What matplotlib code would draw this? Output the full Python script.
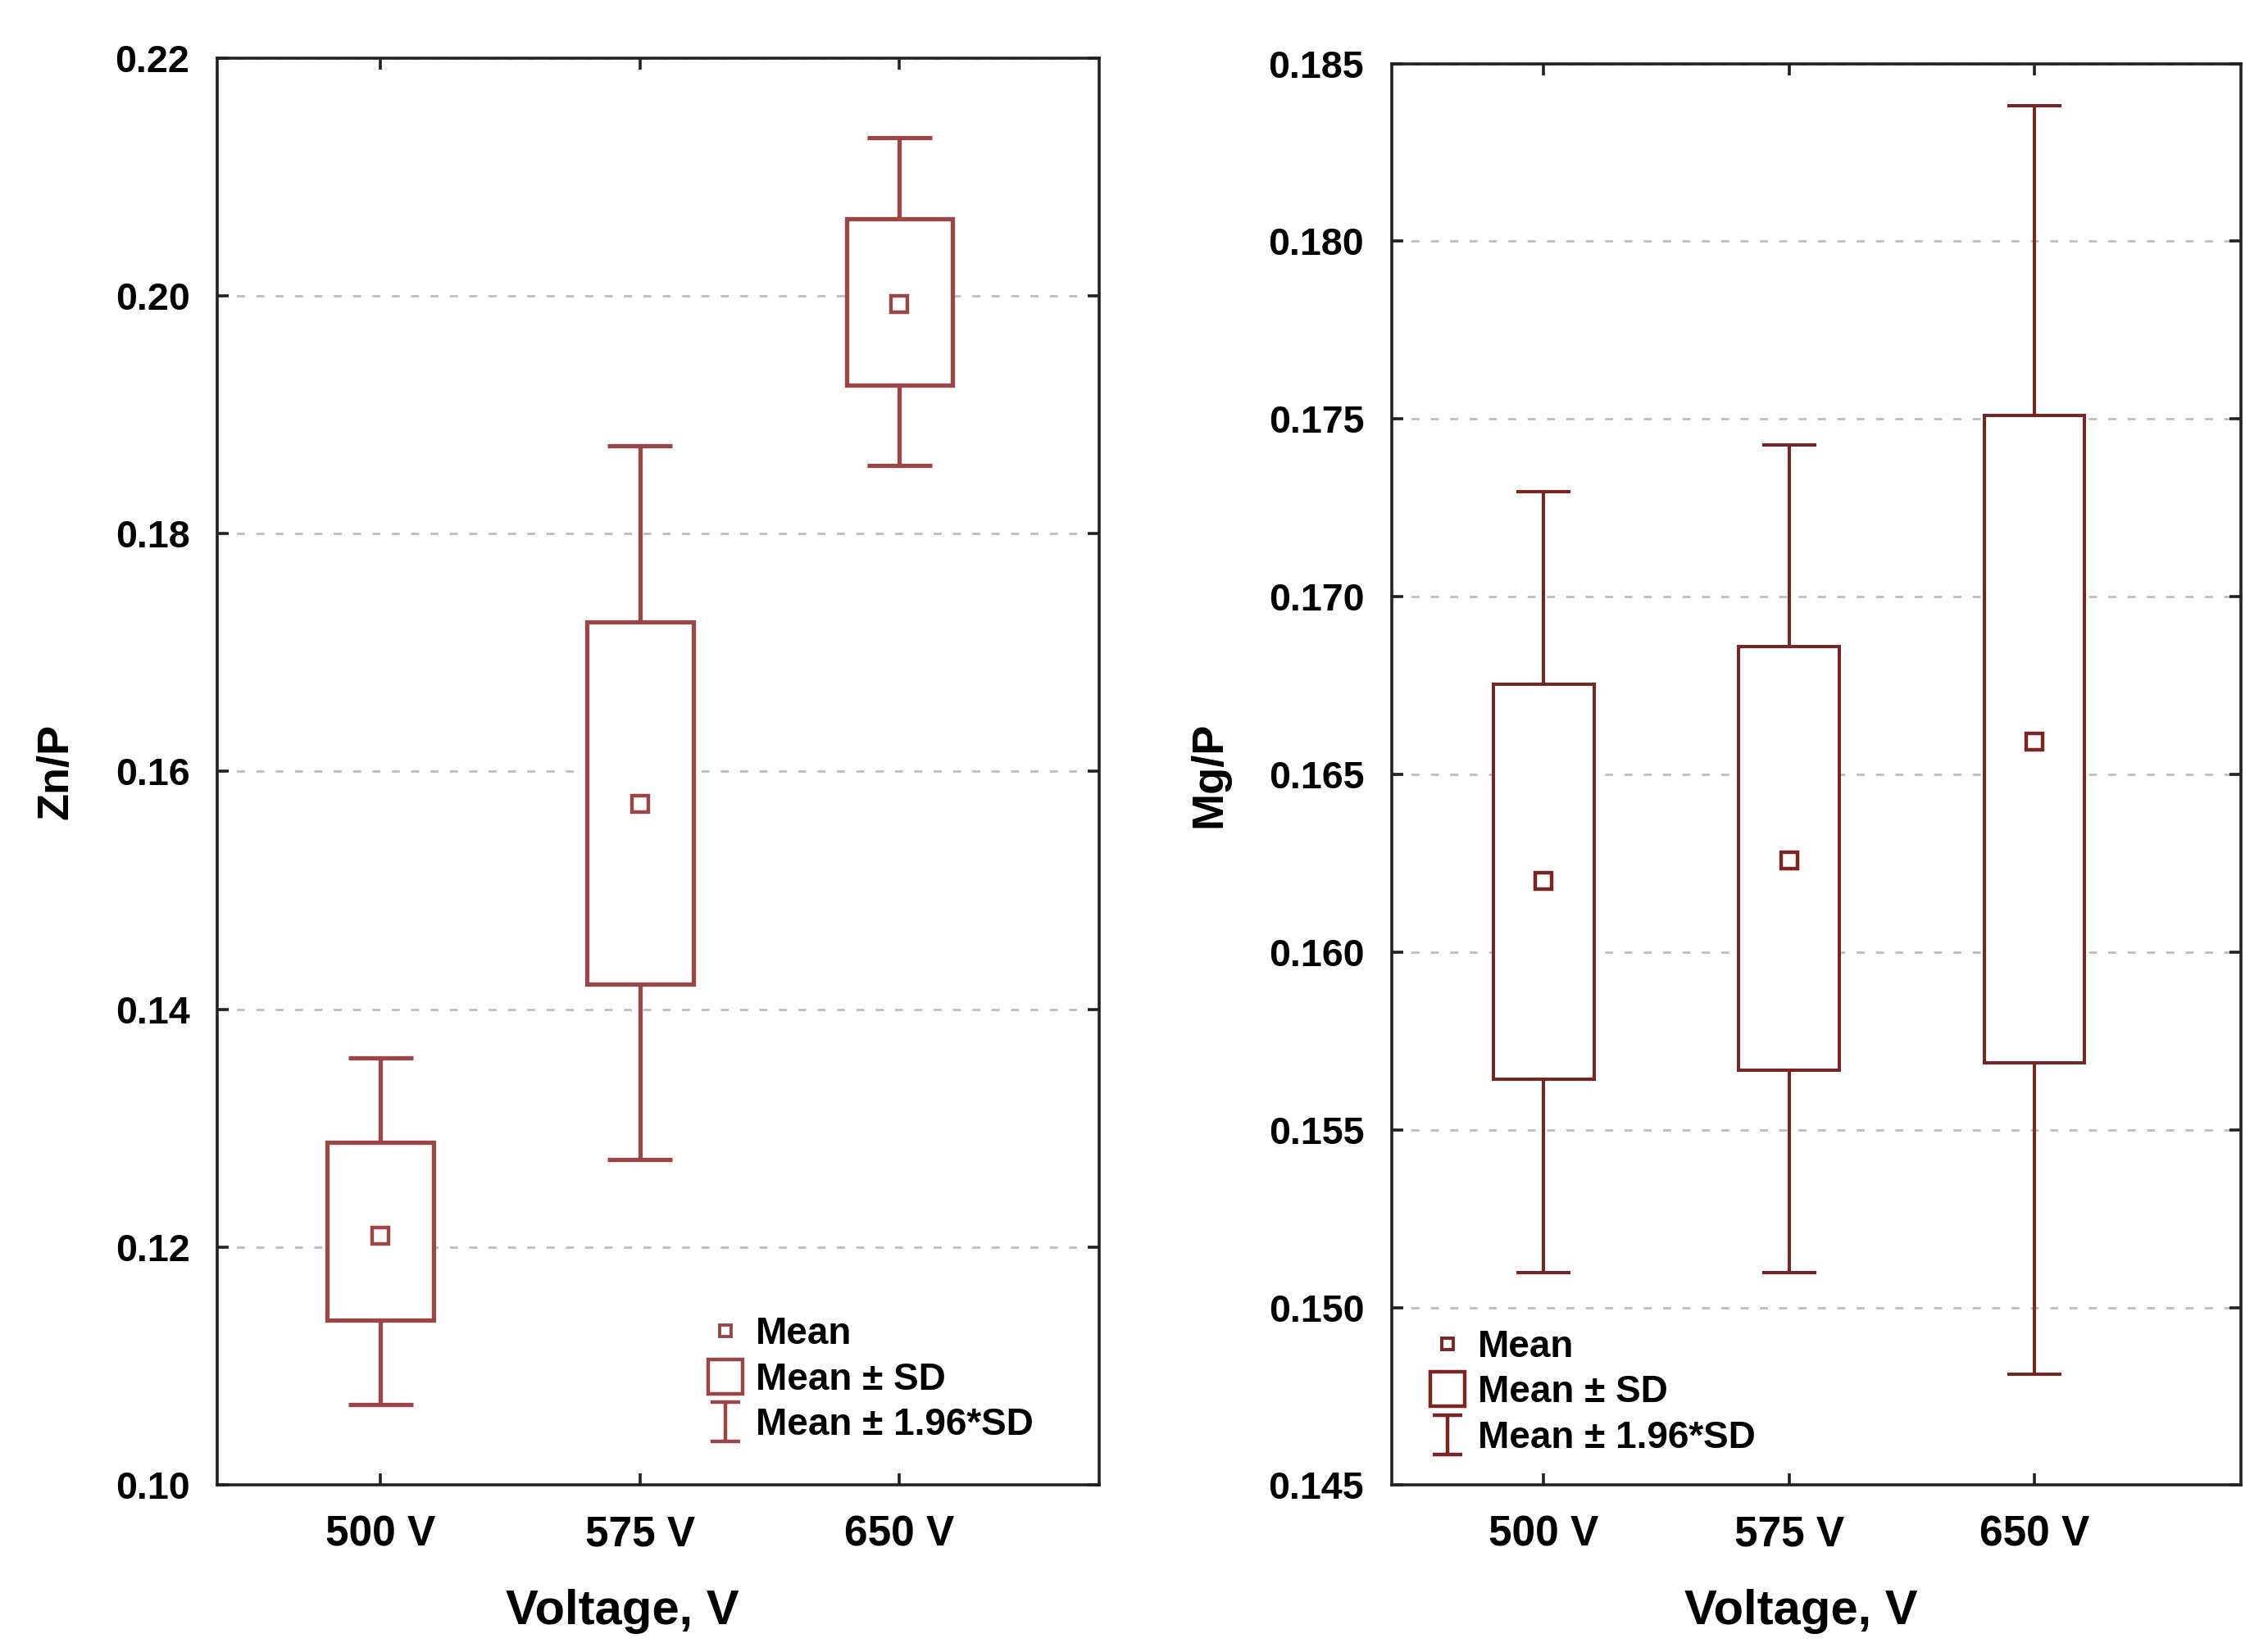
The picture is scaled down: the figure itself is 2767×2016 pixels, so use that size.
import matplotlib
matplotlib.use("Agg")
import matplotlib.pyplot as plt
from matplotlib.path import Path
from matplotlib.lines import Line2D
import numpy as np

categories = ["500 V", "575 V", "650 V"]

# Zn/P
zn_mean = [0.1210, 0.1573, 0.1993]
zn_sd_low = [0.1139, 0.1421, 0.1925]
zn_sd_high = [0.1288, 0.1726, 0.2065]
zn_ci_low = [0.1068, 0.1274, 0.1857]
zn_ci_high = [0.1359, 0.1874, 0.2133]

# Mg/P
mg_mean = [0.16201, 0.16258, 0.16592]
mg_sd_low = [0.15643, 0.15668, 0.15688]
mg_sd_high = [0.16754, 0.16860, 0.17511]
mg_ci_low = [0.15098, 0.15098, 0.14813]
mg_ci_high = [0.17296, 0.17426, 0.18382]

fam = ["Liberation Sans Narrow", "Liberation Sans", "DejaVu Sans"]
plt.rcParams["font.family"] = fam
plt.rcParams["font.weight"] = "bold"

fig = plt.figure(figsize=(13.835, 10.08), dpi=200)
ax1 = fig.add_axes([0.0957, 0.101, 0.389, 0.864])
ax2 = fig.add_axes([0.6135, 0.101, 0.3744, 0.8605])

ibeam = Path([(-0.75, -1), (0.75, -1), (0, -1), (0, 1), (-0.75, 1), (0.75, 1)],
             [Path.MOVETO, Path.LINETO, Path.MOVETO, Path.LINETO, Path.MOVETO, Path.LINETO])


def draw(ax, mean, sdl, sdh, cil, cih, ylim, yticks, ylabel, xlim, capw, lw, color, legpos, fmt, xlabx):
    x = np.arange(len(categories))
    ax.set_xlim(*xlim)
    ax.set_ylim(*ylim)
    ax.set_yticks(yticks)
    ax.set_yticklabels([fmt.format(v) for v in yticks])
    ax.set_xticks(x)
    ax.set_xticklabels(categories)
    ax.yaxis.grid(True, linestyle=(0, (3.5, 5)), color="#bdbdbd", linewidth=1.0, zorder=0)
    ax.set_axisbelow(True)
    ax.bar(x, np.array(sdh) - np.array(sdl), bottom=sdl, width=0.41,
           facecolor="white", edgecolor=color, linewidth=lw, zorder=3)
    ax.vlines(x, cil, sdl, color=color, linewidth=lw, zorder=3)
    ax.vlines(x, sdh, cih, color=color, linewidth=lw, zorder=3)
    ax.hlines(cil, x - capw / 2, x + capw / 2, color=color, linewidth=lw, zorder=3)
    ax.hlines(cih, x - capw / 2, x + capw / 2, color=color, linewidth=lw, zorder=3)
    ax.plot(x, mean, linestyle="none", marker="s", markersize=7.5, markerfacecolor="white",
            markeredgecolor=color, markeredgewidth=1.6, zorder=4)
    for s in ax.spines.values():
        s.set_linewidth(1.3)
        s.set_color("#222222")
    ax.tick_params(axis="both", direction="in", length=5, width=1.3, color="#222222",
                   top=True, right=True)
    ax.tick_params(axis="x", labelsize=18.5, pad=13)
    ax.tick_params(axis="y", labelsize=16.8, pad=12)
    ax.set_xlabel("Voltage, V", fontsize=21.5, fontweight="bold", labelpad=15)
    ax.xaxis.label.set_x(xlabx)
    ax.set_ylabel(ylabel, fontsize=19.5, fontweight="bold", labelpad=17)
    handles = [
        Line2D([], [], linestyle="none", marker="s", markersize=5, markerfacecolor="white",
               markeredgecolor=color, markeredgewidth=1.4),
        Line2D([], [], linestyle="none", marker="s", markersize=15, markerfacecolor="white",
               markeredgecolor=color, markeredgewidth=1.6),
        Line2D([], [], linestyle="none", marker=ibeam, markersize=17, markerfacecolor="none",
               markeredgecolor=color, markeredgewidth=1.6),
    ]
    labels = ["Mean", "Mean ± SD", "Mean ± 1.96*SD"]
    ax.legend(handles, labels, loc="lower left", bbox_to_anchor=legpos, frameon=False,
              fontsize=16.5, handlelength=1.0, handletextpad=0.3, labelspacing=0.25,
              borderpad=0.2)


draw(ax1, zn_mean, zn_sd_low, zn_sd_high, zn_ci_low, zn_ci_high,
     (0.10, 0.22), [0.10, 0.12, 0.14, 0.16, 0.18, 0.20, 0.22], "Zn/P",
     (-0.63, 2.77), 0.25, 1.9, "#9A4646", (0.525, 0.011), "{:.2f}", 0.459)
draw(ax2, mg_mean, mg_sd_low, mg_sd_high, mg_ci_low, mg_ci_high,
     (0.145, 0.185), [0.145, 0.150, 0.155, 0.160, 0.165, 0.170, 0.175, 0.180, 0.185], "Mg/P",
     (-0.62, 2.84), 0.22, 1.45, "#7A2424", (0.013, 0.002), "{:.3f}", 0.482)

fig.savefig("out.png", dpi=200)
